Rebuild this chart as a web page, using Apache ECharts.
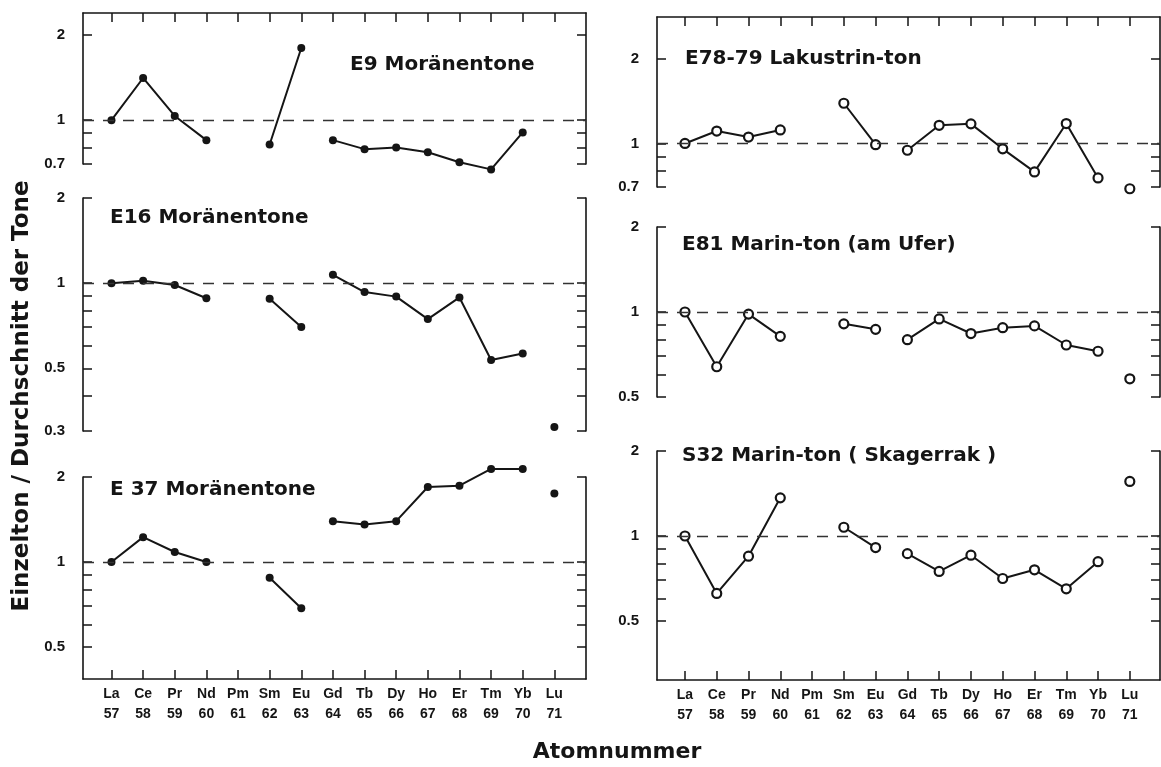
<!DOCTYPE html>
<html><head><meta charset="utf-8">
<script src="https://cdn.jsdelivr.net/npm/echarts@6/dist/echarts.min.js"></script>
<style>html,body{margin:0;padding:0;background:#fff}#c{width:1161px;height:767px}</style>
</head><body><div id="c"></div>
<script>
// ---- data ----
const elements = ['La','Ce','Pr','Nd','Pm','Sm','Eu','Gd','Tb','Dy','Ho','Er','Tm','Yb','Lu'];
const atomicNumbers = [57,58,59,60,61,62,63,64,65,66,67,68,69,70,71];
const segments = [[57,60],[62,63],[64,70],[71,71]];

const e9  = [1.00,1.41,1.035,0.85,null,0.82,1.80,0.85,0.79,0.80,0.77,0.71,0.67,0.905,null];
const e16 = [1.00,1.02,0.985,0.884,null,0.88,0.70,1.07,0.93,0.896,0.746,0.89,0.535,0.564,0.31];
const e37 = [1.00,1.225,1.085,1.00,null,0.88,0.686,1.395,1.358,1.395,1.844,1.864,2.135,2.135,1.75];
const e78 = [1.00,1.107,1.054,1.117,null,1.39,0.99,0.946,1.16,1.174,0.957,0.792,1.177,0.754,0.69];
const e81 = [1.00,0.64,0.983,0.82,null,0.908,0.868,0.798,0.945,0.839,0.88,0.893,0.764,0.726,0.58];
const s32 = [1.00,0.626,0.848,1.365,null,1.074,0.91,0.866,0.749,0.855,0.707,0.759,0.65,0.811,1.56];

const ticksA = [0.7,0.8,0.9,1,2];
const labelsA = [0.7,1,2];
const ticksB = [0.3,0.4,0.5,0.6,0.7,0.8,0.9,1,2];
const labelsB = [0.3,0.5,1,2];
const ticksC = [0.5,0.6,0.7,0.8,0.9,1,2];
const labelsC = [0.5,1,2];

const titles = ['E9 Moränentone','E16 Moränentone','E 37 Moränentone',
                'E78-79 Lakustrin-ton','E81 Marin-ton (am Ufer)','S32 Marin-ton ( Skagerrak )'];
const yName = 'Einzelton / Durchschnitt der Tone';
const xName = 'Atomnummer';

// ---- layout ----
const colL = {left:83, width:503, xmin:56.1, xmax:72.0};
const colR = {left:657, width:503, xmin:56.12, xmax:71.95};
const panels = [
  {values:e9,  col:colL, top:13,  height:151, ymin:0.7,    ymax:2.393, ticks:ticksA, labels:labelsA, xa:'top',    filled:true,  tx:350, ty:65},
  {values:e16, col:colL, top:198, height:233, ymin:0.3,    ymax:2,     ticks:ticksB, labels:labelsB, xa:'none',   filled:true,  tx:110, ty:218},
  {values:e37, col:colL, top:477, height:202, ymin:0.3853, ymax:2,     ticks:ticksC, labels:labelsC, xa:'bottom', filled:true,  tx:110, ty:490},
  {values:e78, col:colR, top:17,  height:170, ymin:0.7,    ymax:2.817, ticks:ticksA, labels:labelsA, xa:'top',    filled:false, tx:685, ty:59},
  {values:e81, col:colR, top:227, height:170, ymin:0.5,    ymax:2,     ticks:ticksC, labels:labelsC, xa:'none',   filled:false, tx:682, ty:245},
  {values:s32, col:colR, top:451, height:229, ymin:0.309,  ymax:2,     ticks:ticksC, labels:labelsC, xa:'bottom', filled:false, tx:682, ty:456}
];

const ink = '#151515';
const axisLine = {show:true, lineStyle:{color:ink, width:1.6}};
const tickStyle = {color:ink, width:1.5};

function buildData(values){
  const out = [];
  segments.forEach(function(seg){
    for (let x = seg[0]; x <= seg[1]; x++) {
      const v = values[atomicNumbers.indexOf(x)];
      if (v != null) out.push([x, v]);
    }
    out.push([seg[1] + 0.5, '-']);
  });
  return out;
}

const grid = [], xAxis = [], yAxis = [], series = [], graphic = [];
panels.forEach(function(p, i){
  grid.push({left:p.col.left, width:p.col.width, top:p.top, height:p.height});
  const xa = {type:'value', gridIndex:i, min:p.col.xmin, max:p.col.xmax,
    splitLine:{show:false}, axisLabel:{show:false}, axisTick:{show:false}, axisLine:{show:false}};
  if (p.xa === 'none') {
    xa.show = false;
  } else {
    xa.position = p.xa;
    xa.axisLine = axisLine;
    xa.axisTick = {show:true, inside:true, length:9, customValues:atomicNumbers, lineStyle:tickStyle};
    if (p.xa === 'bottom') {
      xa.axisLabel = {show:true, customValues:atomicNumbers, margin:5,
        fontFamily:'Liberation Sans', fontWeight:'bold', fontSize:14, lineHeight:20, color:ink,
        formatter:function(v){ return elements[atomicNumbers.indexOf(v)] + '\n' + v; }};
    }
  }
  xAxis.push(xa);
  ['left','right'].forEach(function(pos){
    yAxis.push({type:'log', logBase:10, gridIndex:i, position:pos, min:p.ymin, max:p.ymax,
      splitLine:{show:false}, axisLine:axisLine,
      axisTick:{show:true, inside:true, length:9, customValues:p.ticks, lineStyle:tickStyle},
      minorTick:{show:false},
      axisLabel:{show:pos === 'left', customValues:p.labels, margin:18,
        fontFamily:'Liberation Sans', fontWeight:'bold', fontSize:15, color:ink,
        formatter:function(v){ return String(Math.round(v*10)/10); }}
    });
  });
  series.push({type:'line', xAxisIndex:i, yAxisIndex:2*i, data:buildData(p.values),
    clip:false, connectNulls:false, symbol:'circle', symbolSize:p.filled ? 8 : 9,
    lineStyle:{color:ink, width:2}, 
    itemStyle:{color:p.filled ? ink : '#fff', borderColor:ink, borderWidth:p.filled ? 0 : 2.2},
    emphasis:{disabled:true}, z:3,
    markLine:{silent:true, symbol:'none', animation:false, label:{show:false},
      lineStyle:{color:'#333', width:1.3, type:[11,9]}, data:[{yAxis:1}]}
  });
  graphic.push({type:'text', x:p.tx, y:p.ty, style:{text:titles[i], fill:ink,
    font:'bold 20px "DejaVu Sans"', textAlign:'left', textVerticalAlign:'middle'}});
});
graphic.push({type:'text', x:22, y:396, rotation:Math.PI/2, style:{text:yName, fill:ink,
  font:'bold 23px "DejaVu Sans"', textAlign:'center', textVerticalAlign:'middle'}});
graphic.push({type:'text', x:617, y:752, style:{text:xName, fill:ink,
  font:'bold 22px "DejaVu Sans"', textAlign:'center', textVerticalAlign:'middle'}});

const chart = echarts.init(document.getElementById('c'), null, {renderer:'canvas'});
chart.setOption({backgroundColor:'#fff', animation:false, grid:grid, xAxis:xAxis, yAxis:yAxis, series:series, graphic:graphic});
</script></body></html>
